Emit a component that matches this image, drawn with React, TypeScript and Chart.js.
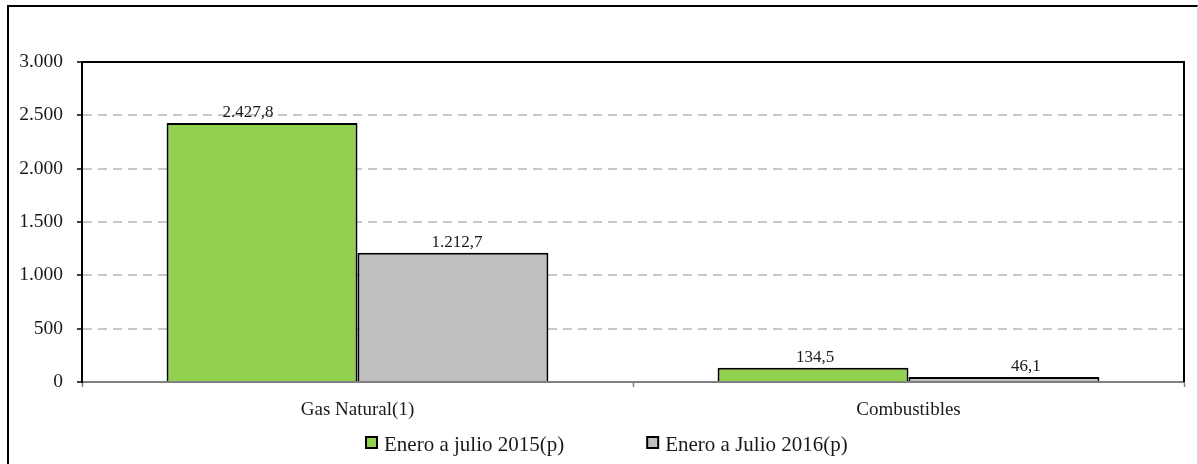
import React, { useEffect, useRef } from "react";
import { Chart, registerables } from "chart.js";

Chart.register(...registerables);

const categories = ["Gas Natural(1)", "Combustibles"];
const seriesLabels = ["Enero a julio 2015(p)", "Enero a Julio 2016(p)"];
const values2015 = [2427.8, 134.5];
const values2016 = [1212.7, 46.1];
const yTickValues = [0, 500, 1000, 1500, 2000, 2500, 3000];

const FONT = "'Liberation Serif', 'Times New Roman', serif";
const TEXT = "#1a1a1a";

function fmt(v: number, dec: number): string {
  const s = v.toFixed(dec);
  const [i, d] = s.split(".");
  const ig = i.replace(/\B(?=(\d{3})+(?!\d))/g, ".");
  return d ? ig + "," + d : ig;
}

const framePlugin = {
  id: "frame",
  afterDraw(chart: any) {
    const { ctx, chartArea } = chart;
    ctx.save();
    ctx.strokeStyle = "#000";
    ctx.lineWidth = 2;
    ctx.beginPath();
    ctx.moveTo(chartArea.left, chartArea.top);
    ctx.lineTo(chartArea.right, chartArea.top);
    ctx.lineTo(chartArea.right, chartArea.bottom);
    ctx.stroke();
    ctx.restore();
  },
};

// manual horizontal nudges of the data labels, as placed in the original chart
const labelNudge: Record<number, number[]> = { 0: [-14, 2], 1: [4, 22] };

const dataLabelPlugin = {
  id: "dataLabels",
  afterDatasetsDraw(chart: any) {
    const ctx = chart.ctx;
    ctx.save();
    ctx.font = `17px ${FONT}`;
    ctx.fillStyle = TEXT;
    ctx.textAlign = "center";
    ctx.textBaseline = "alphabetic";
    chart.data.datasets.forEach((ds: any, i: number) => {
      const meta = chart.getDatasetMeta(i);
      meta.data.forEach((el: any, j: number) => {
        const dx = (labelNudge[i] && labelNudge[i][j]) || 0;
        ctx.fillText(fmt(ds.data[j], 1), el.x + dx, el.y - 6);
      });
    });
    ctx.restore();
  },
};

const legendPlugin = {
  id: "bottomLegend",
  afterDraw(chart: any) {
    const ctx = chart.ctx;
    ctx.save();
    ctx.font = `21px ${FONT}`;
    const box = 11;
    const gapText = 7;
    const gapItem = 83;
    const items = chart.data.datasets.map((ds: any) => ({
      label: ds.label,
      color: ds.backgroundColor,
      w: ctx.measureText(ds.label).width,
    }));
    const total =
      items.reduce((a: number, it: any) => a + box + gapText + it.w, 0) +
      gapItem * (items.length - 1);
    let x = Math.round(607 - total / 2);
    const boxTop = 437;
    const baseline = 451;
    items.forEach((it: any) => {
      ctx.fillStyle = it.color;
      ctx.fillRect(x, boxTop, box, box);
      ctx.strokeStyle = "#000";
      ctx.lineWidth = 2;
      ctx.strokeRect(x, boxTop, box, box);
      ctx.fillStyle = TEXT;
      ctx.textAlign = "left";
      ctx.textBaseline = "alphabetic";
      ctx.fillText(it.label, x + box + gapText, baseline);
      x += box + gapText + it.w + gapItem;
    });
    ctx.restore();
  },
};

export default function App() {
  const canvasRef = useRef<HTMLCanvasElement | null>(null);

  useEffect(() => {
    if (!canvasRef.current) return;
    const chart = new Chart(canvasRef.current, {
      type: "bar",
      data: {
        labels: categories,
        datasets: [
          {
            label: seriesLabels[0],
            data: values2015,
            backgroundColor: "#92D050",
            borderColor: "#000000",
            borderWidth: 2,
          },
          {
            label: seriesLabels[1],
            data: values2016,
            backgroundColor: "#BFBFBF",
            borderColor: "#000000",
            borderWidth: 2,
          },
        ],
      },
      options: {
        responsive: false,
        animation: false,
        events: [],
        layout: { padding: { top: 62, right: 14, left: 0, bottom: 0 } },
        datasets: {
          bar: { categoryPercentage: 0.693, barPercentage: 1 },
        },
        plugins: {
          legend: { display: false },
          title: { display: false },
          tooltip: { enabled: false },
        },
        scales: {
          x: {
            type: "category",
            offset: true,
            z: 1,
            grid: {
              display: true,
              offset: true,
              drawOnChartArea: false,
              drawTicks: true,
              tickLength: 5,
              tickColor: "#808080",
              tickWidth: 1.5,
            },
            border: { display: true, color: "#808080", width: 2 },
            ticks: {
              font: { family: FONT, size: 19 },
              color: TEXT,
              padding: 12,
              maxRotation: 0,
            },
            afterFit: (s: any) => {
              s.height = 82;
            },
          },
          y: {
            min: 0,
            max: 3000,
            afterBuildTicks: (s: any) => {
              s.ticks = yTickValues.map((v) => ({ value: v }));
            },
            ticks: {
              font: { family: FONT, size: 19.5 },
              color: TEXT,
              padding: 14,
              callback: (v: any) => fmt(Number(v), 0),
            },
            grid: {
              color: (c: any) =>
                c.tick && (c.tick.value === 0 || c.tick.value === 3000)
                  ? "rgba(0,0,0,0)"
                  : "#C8C8C8",
              lineWidth: 2,
              tickColor: "#000",
              tickLength: 5,
              tickWidth: 1.5,
              tickBorderDash: [],
            },
            border: { display: true, color: "#000", width: 2, dash: [9, 6] },
            afterFit: (s: any) => {
              s.width = 82;
            },
          },
        },
      },
      plugins: [dataLabelPlugin, framePlugin, legendPlugin],
    } as any);
    return () => chart.destroy();
  }, []);

  return (
    <div
      style={{
        position: "fixed",
        left: 0,
        top: 0,
        width: 1198,
        height: 464,
        overflow: "hidden",
        background: "#fff",
      }}
    >
      <div
        style={{
          position: "absolute",
          left: 7,
          top: 5,
          width: 1191,
          height: 480,
          boxSizing: "border-box",
          borderLeft: "2px solid #000",
          borderTop: "2px solid #000",
          borderRight: "1px solid #d8d8d8",
        }}
      />
      <canvas
        ref={canvasRef}
        width={1198}
        height={464}
        style={{ position: "absolute", left: 0, top: 0, width: 1198, height: 464 }}
      />
    </div>
  );
}
